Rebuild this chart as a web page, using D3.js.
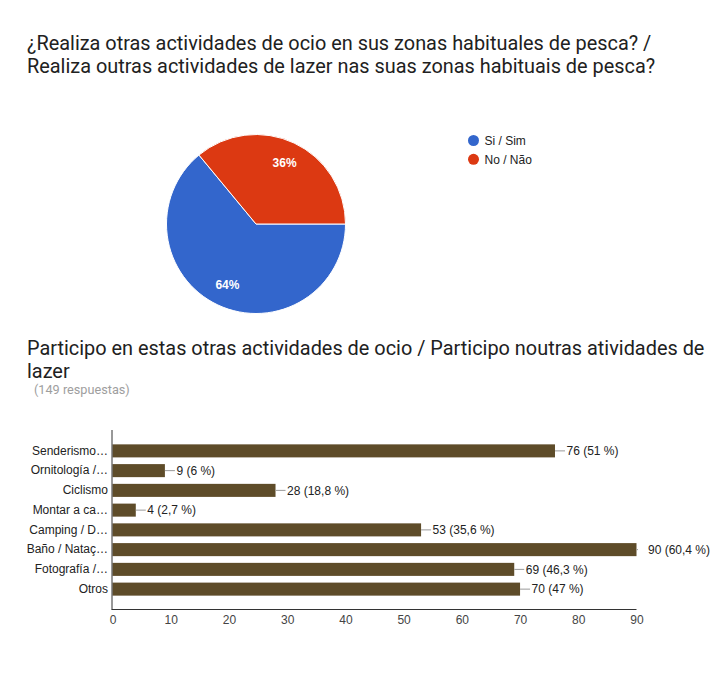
<!DOCTYPE html>
<html>
<head>
<meta charset="utf-8">
<script src="https://cdn.jsdelivr.net/npm/d3@7"></script>
<style>
  html, body { margin: 0; padding: 0; background: #fff; }
  svg { display: block; }
</style>
</head>
<body>
<svg id="chart" width="716" height="673"></svg>
<script>
// ---- Data ----
const pieTitle = ["¿Realiza otras actividades de ocio en sus zonas habituales de pesca? /",
                  "Realiza outras actividades de lazer nas suas zonas habituais de pesca?"];
const pieLabels = ["Si / Sim", "No / Não"];
const pieValues = [64, 36];
const pieColors = ["#3366cc", "#dc3912"];

const barTitle = ["Participo en estas otras actividades de ocio / Participo noutras atividades de",
                  "lazer"];
const responses = "(149 respuestas)";
const barCategories = ["Senderismo…", "Ornitología /…", "Ciclismo", "Montar a ca…",
                       "Camping / D…", "Baño / Nataç…", "Fotografía /…", "Otros"];
const barValues = [76, 9, 28, 4, 53, 90, 69, 70];
const barPercents = ["51", "6", "18,8", "2,7", "35,6", "60,4", "46,3", "47"];
const xTicks = [0, 10, 20, 30, 40, 50, 60, 70, 80, 90];

// ---- Drawing ----
const svg = d3.select("#chart");
const titleFont = "Roboto, 'Open Sans', sans-serif";
const chartFont = "Arial, 'Liberation Sans', sans-serif";

// Pie chart title
svg.append("g").selectAll("text").data(pieTitle).join("text")
  .attr("x", 27).attr("y", (d, i) => 50 + i * 23)
  .attr("font-family", titleFont).attr("font-size", 19.9)
  .attr("fill", "#212121").text(d => d);

// Pie
const cx = 256, cy = 224, r = 89.5;
const pie = d3.pie().sort(null).value(d => d)
  .startAngle(Math.PI / 2).endAngle(Math.PI / 2 + 2 * Math.PI);
const arcs = pie(pieValues);
const arc = d3.arc().innerRadius(0).outerRadius(r);
const labelArc = d3.arc().innerRadius(r * 0.75).outerRadius(r * 0.75);
const pg = svg.append("g").attr("transform", `translate(${cx},${cy})`);
pg.selectAll("path").data(arcs).join("path")
  .attr("d", arc).attr("fill", (d, i) => pieColors[i])
  .attr("stroke", "#fff").attr("stroke-width", 1);
pg.selectAll("text").data(arcs).join("text")
  .attr("transform", d => `translate(${labelArc.centroid(d)})`)
  .attr("text-anchor", "middle").attr("dy", "0.35em")
  .attr("font-family", chartFont).attr("font-size", 12).attr("font-weight", "bold")
  .attr("fill", "#fff").text(d => d.data + "%");

// Legend
const lg = svg.append("g").selectAll("g").data(pieLabels).join("g")
  .attr("transform", (d, i) => `translate(473.5,${140.5 + i * 18.8})`);
lg.append("circle").attr("r", 5.5).attr("fill", (d, i) => pieColors[i]);
lg.append("text").attr("x", 11).attr("dy", "0.35em")
  .attr("font-family", chartFont).attr("font-size", 12)
  .attr("fill", "#222").text(d => d);

// Bar chart title
svg.append("g").selectAll("text").data(barTitle).join("text")
  .attr("x", 27).attr("y", (d, i) => 355 + i * 22.5)
  .attr("font-family", titleFont).attr("font-size", 19.9)
  .attr("fill", "#212121").text(d => d);
svg.append("text").attr("x", 34).attr("y", 394)
  .attr("font-family", titleFont).attr("font-size", 12.7)
  .attr("fill", "#9e9e9e").text(responses);

// Bar chart
const plotTop = 430, plotBottom = 609;
const x = d3.scaleLinear().domain([0, 90]).range([112.5, 636.5]);
const y = d3.scaleBand().domain(barCategories).range([441, 599]).paddingInner(0.34).paddingOuter(0.17);

const bg = svg.append("g");
bg.selectAll("rect").data(barValues).join("rect")
  .attr("x", x(0)).attr("y", (d, i) => y(barCategories[i]))
  .attr("width", d => x(d) - x(0)).attr("height", y.bandwidth())
  .attr("fill", "#5e4c29");

// leader lines and value labels
const maxV = d3.max(barValues);
bg.selectAll("line.lead").data(barValues).join("line").attr("class", "lead")
  .attr("x1", d => x(d)).attr("x2", d => d === maxV ? x(d) + 1.5 : x(d) + 10)
  .attr("y1", (d, i) => y(barCategories[i]) + y.bandwidth() / 2)
  .attr("y2", (d, i) => y(barCategories[i]) + y.bandwidth() / 2)
  .attr("stroke", "#999").attr("stroke-width", 1);
bg.selectAll("text.val").data(barValues).join("text").attr("class", "val")
  .attr("x", d => x(d) + 11.5)
  .attr("y", (d, i) => y(barCategories[i]) + y.bandwidth() / 2)
  .attr("dy", "0.35em")
  .attr("font-family", chartFont).attr("font-size", 12).attr("fill", "#222")
  .text((d, i) => `${d} (${barPercents[i]} %)`);

// category labels
const yAxis = d3.axisLeft(y).tickSize(0).tickPadding(4);
const ya = svg.append("g").attr("transform", `translate(${x(0) - 0.5},0)`).call(yAxis);
ya.select(".domain").remove();
ya.selectAll("text").attr("font-family", chartFont).attr("font-size", 12).attr("fill", "#222");

// x axis
const xAxis = d3.axisBottom(x).tickValues(xTicks).tickSize(0).tickPadding(6);
const xa = svg.append("g").attr("transform", `translate(0,${plotBottom})`).call(xAxis);
xa.select(".domain").remove();
xa.selectAll("text").attr("font-family", chartFont).attr("font-size", 12).attr("fill", "#444");

// axis lines
svg.append("line").attr("x1", x(0) - 0.5).attr("x2", x(0) - 0.5)
  .attr("y1", plotTop).attr("y2", plotBottom + 0.5)
  .attr("stroke", "#333").attr("stroke-width", 1);
svg.append("line").attr("x1", x(0) - 1).attr("x2", x(90))
  .attr("y1", plotBottom + 0.5).attr("y2", plotBottom + 0.5)
  .attr("stroke", "#333").attr("stroke-width", 1);
</script>
</body>
</html>
